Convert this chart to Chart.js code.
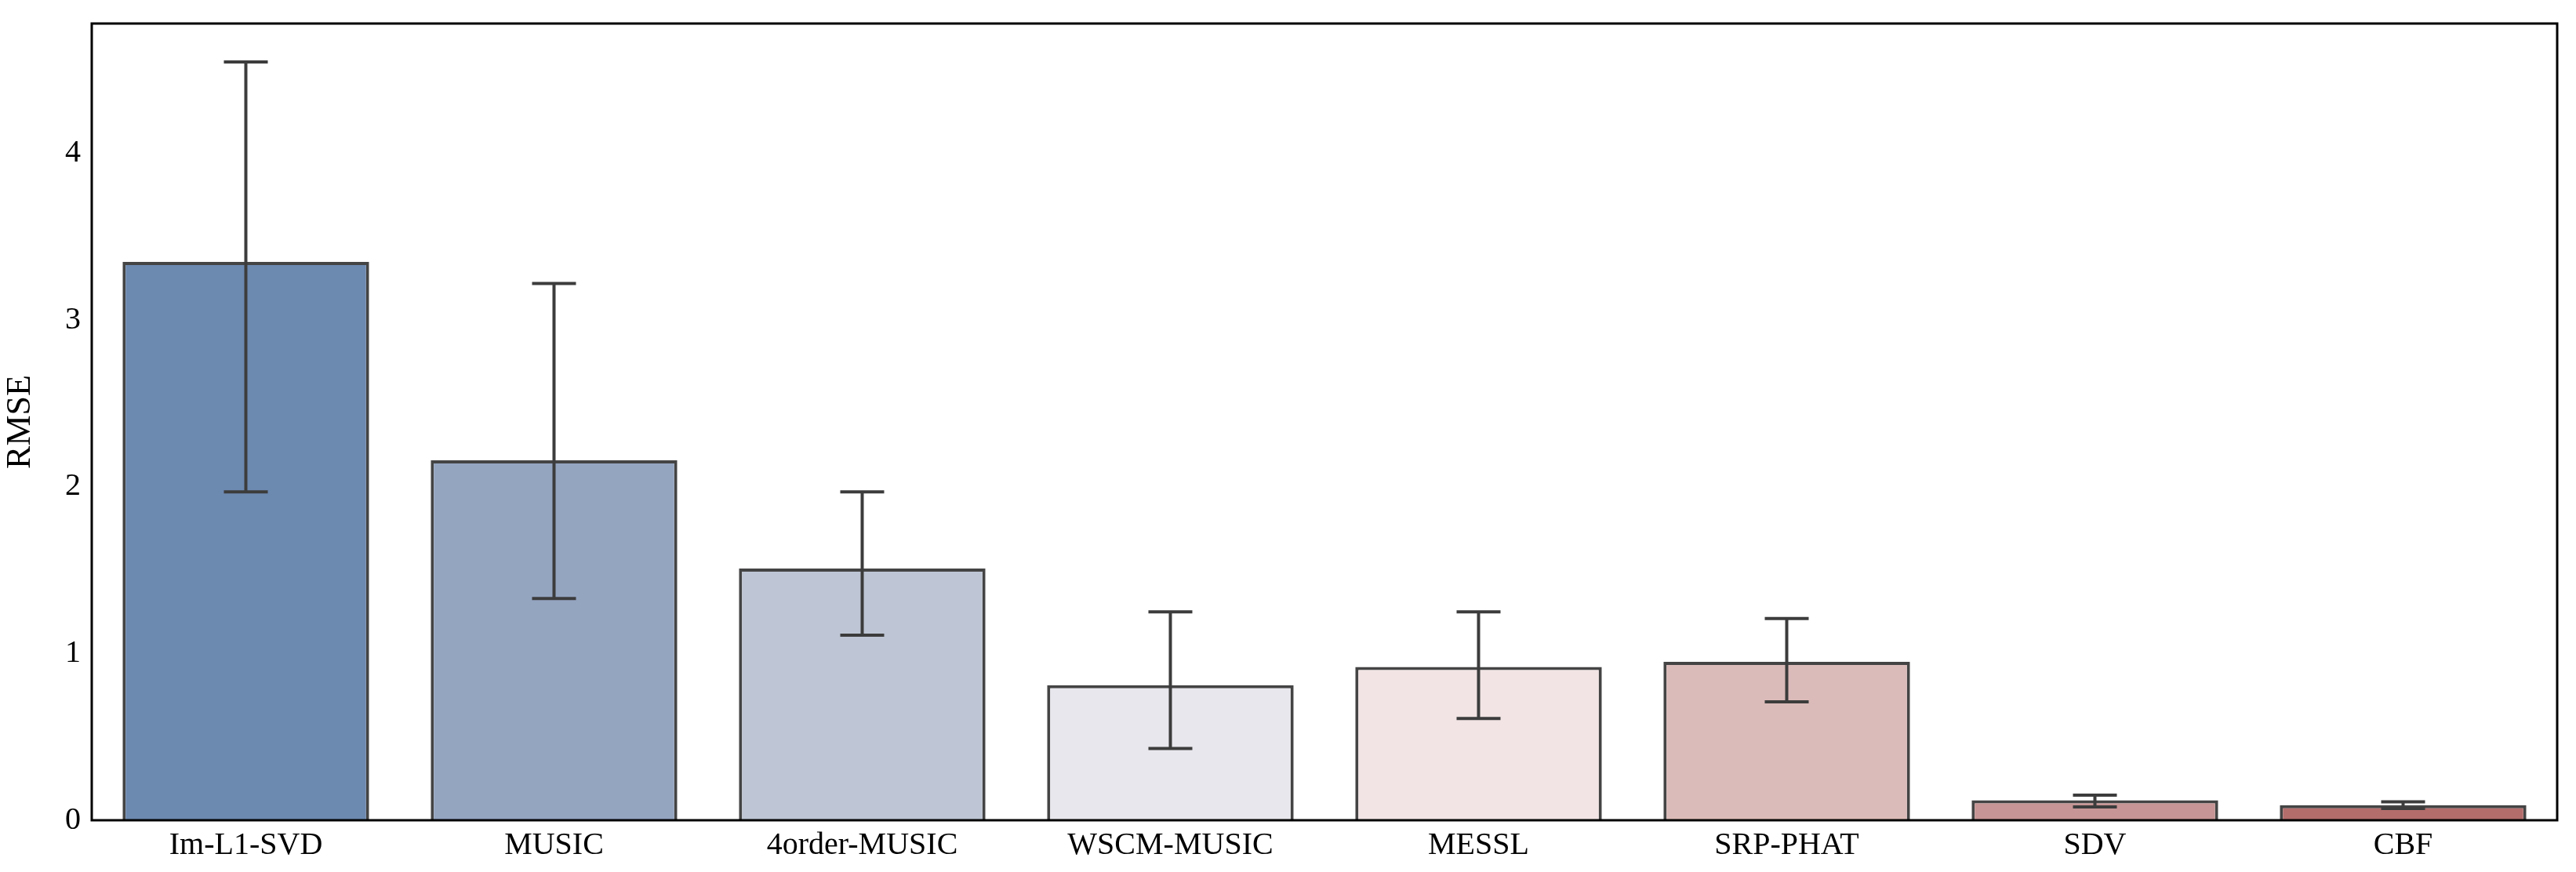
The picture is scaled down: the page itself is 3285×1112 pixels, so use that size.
<!DOCTYPE html>
<html>
<head>
<meta charset="utf-8" />
<title>RMSE</title>
<script src="https://cdn.jsdelivr.net/npm/chart.js"></script>
<style>
  html, body { margin: 0; padding: 0; background: #fff; }
  #wrap { width: 3285px; height: 1112px; }
</style>
</head>
<body>
<div id="wrap"><canvas id="c"></canvas></div>
<script>
// data
const methods = ["Im-L1-SVD", "MUSIC", "4order-MUSIC", "WSCM-MUSIC", "MESSL", "SRP-PHAT", "SDV", "CBF"];
const rmse = [3.35, 2.16, 1.51, 0.81, 0.92, 0.95, 0.12, 0.09];
const errLow = [1.97, 1.33, 1.11, 0.43, 0.61, 0.71, 0.08, 0.07];
const errHigh = [4.55, 3.22, 1.97, 1.25, 1.25, 1.21, 0.15, 0.11];
const barColors = ["#6c89b0", "#94a5c0", "#bec6d5", "#e8e7ed", "#f2e4e4", "#dbbbb9", "#c79595", "#b36d6b"];
const yTicks = [0, 1, 2, 3, 4];

const FONT = "'Liberation Serif', 'Times New Roman', serif";

// error bars + frame
const errorBars = {
  id: "errorBars",
  afterDatasetsDraw(chart) {
    const ctx = chart.ctx;
    const x = chart.scales.x, y = chart.scales.y;
    ctx.save();
    ctx.strokeStyle = "#3c3c3c";
    ctx.lineWidth = 4;
    methods.forEach((m, i) => {
      const cx = x.getPixelForValue(i);
      const yl = y.getPixelForValue(errLow[i]);
      const yh = y.getPixelForValue(errHigh[i]);
      ctx.beginPath();
      ctx.moveTo(cx, yl); ctx.lineTo(cx, yh);
      ctx.moveTo(cx - 28, yl); ctx.lineTo(cx + 28, yl);
      ctx.moveTo(cx - 28, yh); ctx.lineTo(cx + 28, yh);
      ctx.stroke();
    });
    const a = chart.chartArea;
    ctx.strokeStyle = "#000";
    ctx.lineWidth = 3;
    ctx.strokeRect(a.left, a.top, a.right - a.left, a.bottom - a.top);
    ctx.restore();
  }
};

new Chart(document.getElementById("c"), {
  type: "bar",
  data: {
    labels: methods,
    datasets: [{
      data: rmse,
      backgroundColor: barColors,
      borderColor: "#444",
      borderWidth: 4,
      categoryPercentage: 0.8,
      barPercentage: 1.0
    }]
  },
  options: {
    responsive: true,
    maintainAspectRatio: false,
    animation: false,
    devicePixelRatio: 1,
    layout: { padding: { top: 25, right: 24, left: 0, bottom: 0 } },
    plugins: { legend: { display: false }, tooltip: { enabled: false } },
    scales: {
      x: {
        grid: { display: false, drawTicks: true, tickLength: 6 },
        border: { display: false },
        ticks: { color: "#000", font: { family: FONT, size: 40 }, padding: 2, maxRotation: 0 },
        afterFit(s) { s.height = 66; }
      },
      y: {
        min: 0,
        max: 4.78,
        grid: { display: false, drawTicks: true, tickLength: 8 },
        border: { display: false },
        afterBuildTicks(s) { s.ticks = yTicks.map(v => ({ value: v })); },
        ticks: { color: "#000", font: { family: FONT, size: 40 }, padding: 6 },
        title: { display: true, text: "RMSE", color: "#000", font: { family: FONT, size: 44 }, padding: 0 },
        afterFit(s) { s.width = 117; }
      }
    }
  },
  plugins: [errorBars]
});
</script>
</body>
</html>
